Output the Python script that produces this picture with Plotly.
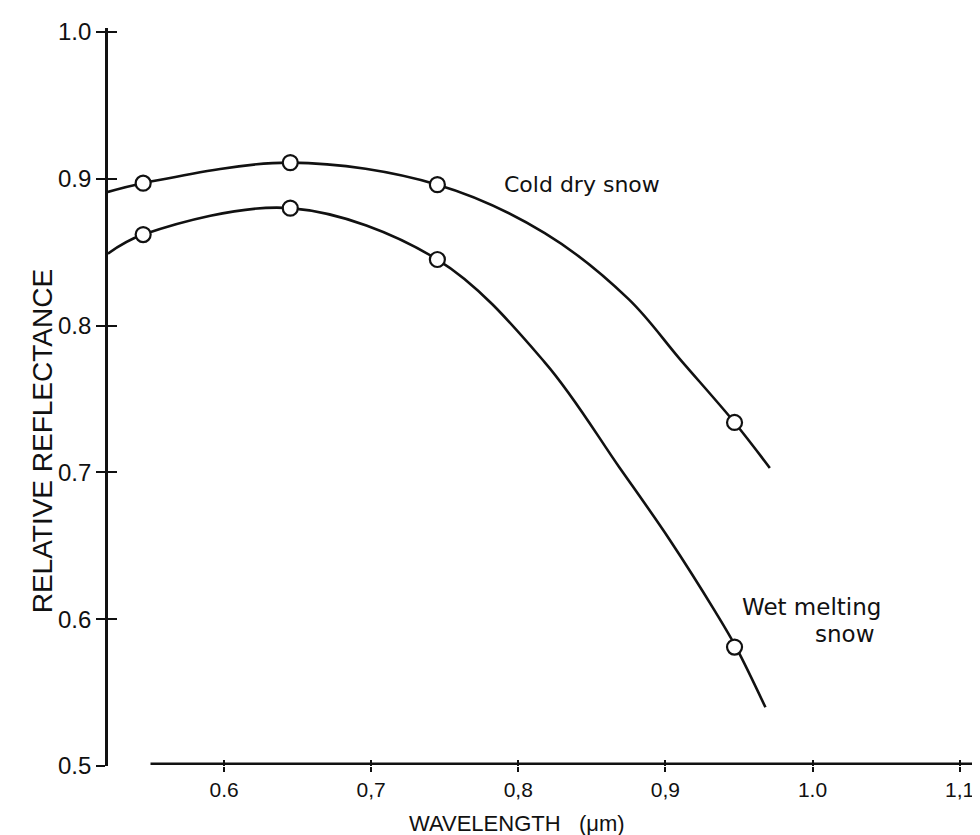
import plotly.graph_objects as go

# ---- data ----
wavelength_pts = [0.545, 0.645, 0.745, 0.947]
cold_dry_pts = [0.897, 0.911, 0.896, 0.734]
wet_melting_pts = [0.862, 0.880, 0.845, 0.581]

cold_curve_x = [0.521, 0.545, 0.645, 0.745, 0.818, 0.875, 0.910, 0.947, 0.971]
cold_curve_y = [0.891, 0.897, 0.911, 0.896, 0.863, 0.818, 0.777, 0.734, 0.703]
wet_curve_x = [0.521, 0.545, 0.645, 0.745, 0.818, 0.869, 0.903, 0.934, 0.948, 0.968]
wet_curve_y = [0.849, 0.862, 0.880, 0.845, 0.775, 0.703, 0.654, 0.605, 0.581, 0.540]

x_tick_vals = [0.6, 0.7, 0.8, 0.9, 1.0, 1.1]
x_tick_text = ["0.6", "0,7", "0,8", "0,9", "1.0", "1,1"]
y_tick_vals = [0.5, 0.6, 0.7, 0.8, 0.9, 1.0]
y_tick_text = ["0.5", "0.6", "0.7", "0.8", "0.9", "1.0"]

X_RANGE = [0.5211, 1.1193]
Y_RANGE = [0.5, 1.0027]
INK = "#111111"
FONT = "Liberation Sans"

fig = go.Figure()

for cx, cy in [(cold_curve_x, cold_curve_y), (wet_curve_x, wet_curve_y)]:
    fig.add_trace(go.Scatter(x=cx, y=cy, mode="lines",
                             line=dict(color=INK, width=2.6, shape="spline", smoothing=1.0),
                             hoverinfo="skip", showlegend=False))

for py in [cold_dry_pts, wet_melting_pts]:
    fig.add_trace(go.Scatter(x=wavelength_pts, y=py, mode="markers",
                             marker=dict(symbol="circle", size=15, color="white",
                                         line=dict(color=INK, width=2.2)),
                             showlegend=False))

# invisible trace for overlay axes (crossing ticks)
fig.add_trace(go.Scatter(x=[X_RANGE[0]], y=[Y_RANGE[0]], xaxis="x2", yaxis="y2",
                         mode="markers", marker=dict(opacity=0), hoverinfo="skip",
                         showlegend=False))

fig.add_annotation(x=0.789, y=0.896, text="Cold dry snow", showarrow=False,
                   xanchor="left", yanchor="middle",
                   font=dict(family="DejaVu Sans", size=22, color=INK))
fig.add_annotation(x=0.951, y=0.608, text="Wet melting", showarrow=False,
                   xanchor="left", yanchor="middle",
                   font=dict(family="DejaVu Sans", size=23, color=INK))
fig.add_annotation(x=1.043, y=0.590, text="snow", showarrow=False,
                   xanchor="right", yanchor="middle",
                   font=dict(family="DejaVu Sans", size=23, color=INK))

# axis titles
fig.add_annotation(xref="paper", yref="paper", x=-0.075, y=0.44,
                   text="RELATIVE REFLECTANCE", textangle=-90, showarrow=False,
                   xanchor="center", yanchor="middle",
                   font=dict(family=FONT, size=28, color=INK))
fig.add_annotation(xref="paper", yref="paper", x=0.465, y=-0.097,
                   text="WAVELENGTH\u00a0\u00a0\u00a0(μm)", showarrow=False,
                   xanchor="center", yanchor="bottom",
                   font=dict(family=FONT, size=22, color=INK))

# x axis line (starts at 0.55, runs to right edge)
fig.add_shape(type="line", xref="x", yref="y", x0=0.55, x1=X_RANGE[1],
              y0=0.5015, y1=0.5015, line=dict(color=INK, width=2.6), layer="above")

fig.update_layout(
    width=980, height=835,
    margin=dict(l=100, r=0, t=20, b=77),
    paper_bgcolor="white", plot_bgcolor="white",
    font=dict(family=FONT, color=INK, size=22),
    xaxis=dict(range=X_RANGE, tickvals=x_tick_vals, ticktext=x_tick_text,
               ticks="outside", ticklen=5, tickwidth=2, tickcolor=INK,
               showline=False, showgrid=False, zeroline=False,
               tickfont=dict(size=21, family=FONT)),
    yaxis=dict(range=Y_RANGE, tickvals=y_tick_vals, ticktext=y_tick_text,
               ticks="outside", ticklen=9, tickwidth=2, tickcolor=INK,
               showline=True, linewidth=2.6, linecolor=INK,
               showgrid=False, zeroline=False,
               tickfont=dict(size=24, family=FONT)),
    xaxis2=dict(range=X_RANGE, overlaying="x", side="bottom", tickvals=x_tick_vals,
                ticks="inside", ticklen=6, tickwidth=2, tickcolor=INK,
                showticklabels=False, showline=False, showgrid=False, zeroline=False),
    yaxis2=dict(range=Y_RANGE, overlaying="y", side="left", tickvals=y_tick_vals,
                ticks="inside", ticklen=9, tickwidth=2, tickcolor=INK,
                showticklabels=False, showline=False, showgrid=False, zeroline=False),
)

fig.write_html("out.html")
